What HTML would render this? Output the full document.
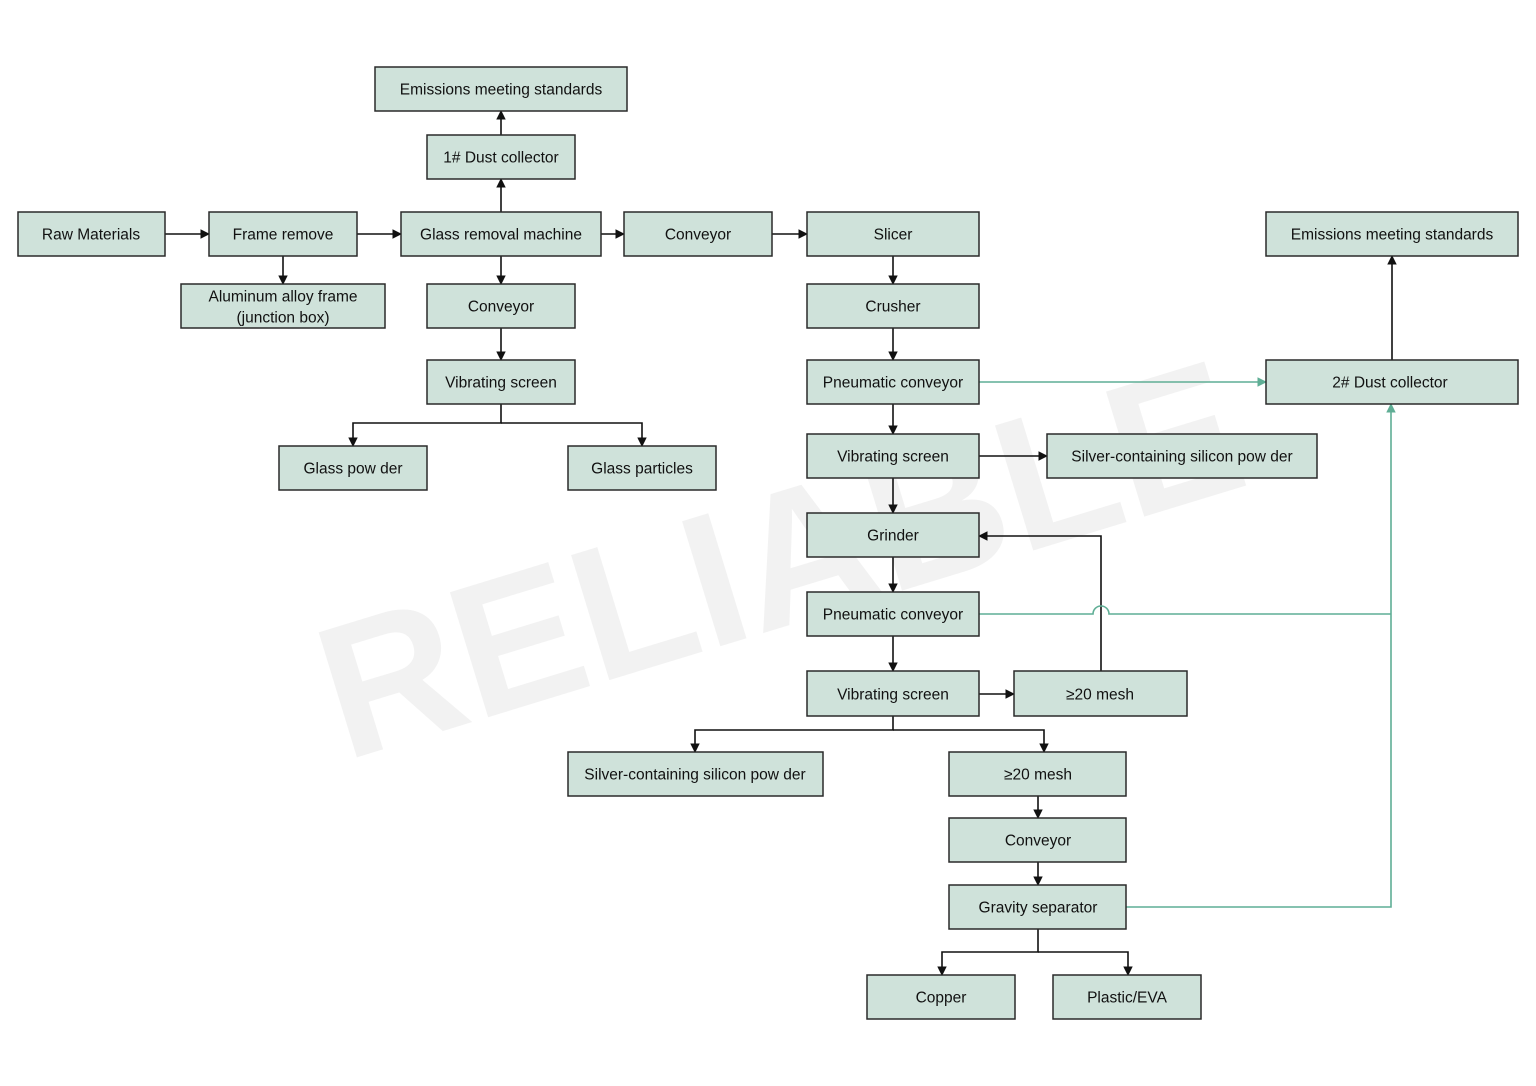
<!DOCTYPE html>
<html><head><meta charset="utf-8"><style>
html,body{margin:0;padding:0;background:#fff}
svg{display:block}
text{font-family:"Liberation Sans",Arial,sans-serif;font-size:15.5px;fill:#111;text-anchor:middle;dominant-baseline:central}
rect.b{fill:#cfe2da;stroke:#2a2a2a;stroke-width:1.5}
.k{stroke:#111;stroke-width:1.6;fill:none}
.g{stroke:#5fae95;stroke-width:1.6;fill:none}
</style></head><body>
<svg width="1536" height="1086" viewBox="0 0 1536 1086" xmlns="http://www.w3.org/2000/svg">
<defs>
<marker id="a" viewBox="0 0 10 10" refX="9" refY="5" markerWidth="6" markerHeight="6" orient="auto"><path d="M0,0L10,5L0,10z" fill="#111"/></marker>
<marker id="ag" viewBox="0 0 10 10" refX="9" refY="5" markerWidth="6" markerHeight="6" orient="auto"><path d="M0,0L10,5L0,10z" fill="#5fae95"/></marker>
</defs>
<g opacity="0.07" font-family="Liberation Sans" font-weight="bold">
<text x="780" y="560" transform="rotate(-17 780 560)" style="font-size:190px;fill:#555">RELIABLE</text>
</g>
<g class="k" marker-end="url(#a)">
<path d="M165,234H209"/><path d="M357,234H401"/><path d="M601,234H624"/><path d="M772,234H807"/>
<path d="M283,256V284"/>
<path d="M501,212V179"/><path d="M501,135V111"/>
<path d="M501,256V284"/><path d="M501,328V360"/>
<path d="M501,404V423H353V446"/><path d="M501,423H642V446"/>
<path d="M893,256V284"/><path d="M893,328V360"/><path d="M893,404V434"/>
<path d="M979,456H1047"/><path d="M893,478V513"/><path d="M893,557V592"/><path d="M893,636V671"/>
<path d="M979,694H1014"/>
<path d="M1101,671V536H979"/>
<path d="M893,716V730H695V752"/><path d="M893,730H1044V752"/>
<path d="M1038,796V818"/><path d="M1038,862V885"/>
<path d="M1038,929V952H942V975"/><path d="M1038,952H1128V975"/>
<path d="M1392,360V256"/>
</g>
<g class="g">
<path d="M979,382H1266" marker-end="url(#ag)"/>
<path d="M979,614H1093A8,8 0 0 1 1109,614H1391"/>
<path d="M1126,907H1391V404" marker-end="url(#ag)"/>
</g>
<g>
<rect class="b" x="375" y="67" width="252" height="44"/><text x="501" y="90">Emissions meeting standards</text>
<rect class="b" x="427" y="135" width="148" height="44"/><text x="501" y="158">1# Dust collector</text>
<rect class="b" x="18" y="212" width="147" height="44"/><text x="91" y="235">Raw  Materials</text>
<rect class="b" x="209" y="212" width="148" height="44"/><text x="283" y="235">Frame remove</text>
<rect class="b" x="401" y="212" width="200" height="44"/><text x="501" y="235">Glass removal machine</text>
<rect class="b" x="624" y="212" width="148" height="44"/><text x="698" y="235">Conveyor</text>
<rect class="b" x="807" y="212" width="172" height="44"/><text x="893" y="235">Slicer</text>
<rect class="b" x="1266" y="212" width="252" height="44"/><text x="1392" y="235">Emissions meeting standards</text>
<rect class="b" x="181" y="284" width="204" height="44"/><text x="283" y="297">Aluminum alloy frame</text><text x="283" y="318">(junction box)</text>
<rect class="b" x="427" y="284" width="148" height="44"/><text x="501" y="307">Conveyor</text>
<rect class="b" x="807" y="284" width="172" height="44"/><text x="893" y="307">Crusher</text>
<rect class="b" x="427" y="360" width="148" height="44"/><text x="501" y="383">Vibrating screen</text>
<rect class="b" x="807" y="360" width="172" height="44"/><text x="893" y="383">Pneumatic conveyor</text>
<rect class="b" x="1266" y="360" width="252" height="44"/><text x="1390" y="383">2# Dust collector</text>
<rect class="b" x="279" y="446" width="148" height="44"/><text x="353" y="469">Glass pow der</text>
<rect class="b" x="568" y="446" width="148" height="44"/><text x="642" y="469">Glass particles</text>
<rect class="b" x="807" y="434" width="172" height="44"/><text x="893" y="457">Vibrating screen</text>
<rect class="b" x="1047" y="434" width="270" height="44"/><text x="1182" y="457">Silver-containing silicon pow der</text>
<rect class="b" x="807" y="513" width="172" height="44"/><text x="893" y="536">Grinder</text>
<rect class="b" x="807" y="592" width="172" height="44"/><text x="893" y="615">Pneumatic conveyor</text>
<rect class="b" x="807" y="671" width="172" height="45"/><text x="893" y="695">Vibrating screen</text>
<rect class="b" x="1014" y="671" width="173" height="45"/><text x="1100" y="695">≥20 mesh</text>
<rect class="b" x="568" y="752" width="255" height="44"/><text x="695" y="775">Silver-containing silicon pow der</text>
<rect class="b" x="949" y="752" width="177" height="44"/><text x="1038" y="775">≥20 mesh</text>
<rect class="b" x="949" y="818" width="177" height="44"/><text x="1038" y="841">Conveyor</text>
<rect class="b" x="949" y="885" width="177" height="44"/><text x="1038" y="908">Gravity separator</text>
<rect class="b" x="867" y="975" width="148" height="44"/><text x="941" y="998">Copper</text>
<rect class="b" x="1053" y="975" width="148" height="44"/><text x="1127" y="998">Plastic/EVA</text>
</g>
</svg>
</body></html>
